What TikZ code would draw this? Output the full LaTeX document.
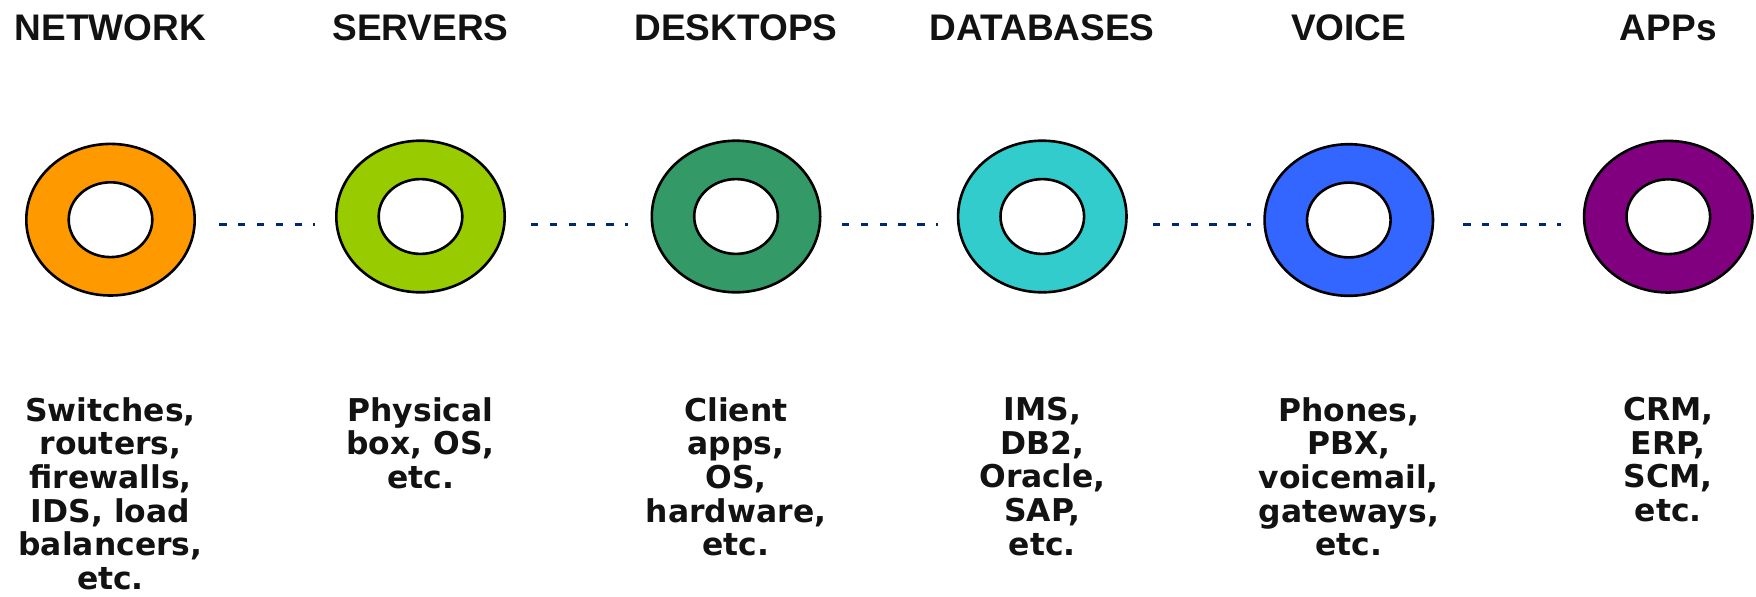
\documentclass[tikz,border=0pt]{standalone}
\usepackage{fontspec}
\usetikzlibrary{shapes.geometric}

\newfontfamily\headfont{Liberation Sans}
\newfontfamily\bodyfont{DejaVu Sans}

\definecolor{netorange}{RGB}{255,153,0}
\definecolor{srvgreen}{RGB}{153,204,0}
\definecolor{dskgreen}{RGB}{51,153,102}
\definecolor{dbcyan}{RGB}{51,204,204}
\definecolor{voiceblue}{RGB}{51,102,255}
\definecolor{appspurple}{RGB}{128,0,128}
\definecolor{linkblue}{RGB}{0,40,110}

\begin{document}
\begin{tikzpicture}[x=0.5pt,y=-0.5pt,
                ring/.style={ellipse,draw,line width=1.3pt,inner sep=0pt,
                  minimum width=84.2pt,minimum height=75.8pt},
                hole/.style={ellipse,draw,fill=white,line width=1.3pt,inner sep=0pt,
                  minimum width=41.8pt,minimum height=37.4pt},
                title/.style={anchor=base,inner sep=0pt,text=black!93,
                  font=\headfont\bfseries\fontsize{18.5pt}{20pt}\selectfont},
                items/.style={anchor=north,inner sep=0pt,align=center,text=black!93,
                  font=\bodyfont\bfseries\fontsize{15.7pt}{16.8pt}\selectfont},
                link/.style={draw=linkblue,line width=1.4pt,
                  dash pattern=on 3.65pt off 5.75pt}]

  \useasboundingbox (0,0) rectangle (1756,596);

  % rings
  \node[ring,fill=netorange] (net) at (110.5,219.7) {};
  \node[ring,fill=srvgreen] (srv) at (420.5,216.5) {};
  \node[ring,fill=dskgreen] (dsk) at (736,216.5) {};
  \node[ring,fill=dbcyan] (db) at (1042.3,216.5) {};
  \node[ring,fill=voiceblue] (voice) at (1348.8,220) {};
  \node[ring,fill=appspurple] (apps) at (1668.3,216.7) {};

  \node[hole] (net-h) at (net) {};
  \node[hole] (srv-h) at (srv) {};
  \node[hole] (dsk-h) at (dsk) {};
  \node[hole] (db-h) at (db) {};
  \node[hole] (voice-h) at (voice) {};
  \node[hole] (apps-h) at (apps) {};

  % headings
  \node[title] (net-t) at (net |- 0,40) {NETWORK};
  \node[title] (srv-t) at (srv |- 0,40) {SERVERS};
  \node[title] (dsk-t) at (dsk |- 0,40) {DESKTOPS};
  \node[title] (db-t) at (db |- 0,40) {DATABASES};
  \node[title] (voice-t) at (voice |- 0,40) {VOICE};
  \node[title] (apps-t) at (apps |- 0,40) {APPs};

  % what each one covers
  \node[items] (net-b) at (net |- 0,397) {Switches,\\routers,\\firewalls,\\IDS, load\\balancers,\\etc.};
  \node[items] (srv-b) at (srv |- 0,397) {Physical\\box, OS,\\etc.};
  \node[items] (dsk-b) at (dsk |- 0,397) {Client\\apps,\\OS,\\hardware,\\etc.};
  \node[items] (db-b) at (db |- 0,397) {IMS,\\DB2,\\Oracle,\\SAP,\\etc.};
  \node[items] (voice-b) at (voice |- 0,397) {Phones,\\PBX,\\voicemail,\\gateways,\\etc.};
  \node[items] (apps-b) at (apps |- 0,397) {CRM,\\ERP,\\SCM,\\etc.};

  % dashed links
  \coordinate (l1a) at (219.3,224.7);  \coordinate (l1b) at (315,224.7);
  \coordinate (l2a) at (531,224.7);    \coordinate (l2b) at (627.5,224.7);
  \coordinate (l3a) at (842,224.7);    \coordinate (l3b) at (938,224.7);
  \coordinate (l4a) at (1153,224.7);   \coordinate (l4b) at (1250.5,224.7);
  \coordinate (l5a) at (1463.3,224.7); \coordinate (l5b) at (1561,224.7);

  \draw[link] (l1a) -- (l1b);
  \draw[link] (l2a) -- (l2b);
  \draw[link] (l3a) -- (l3b);
  \draw[link] (l4a) -- (l4b);
  \draw[link] (l5a) -- (l5b);
\end{tikzpicture}
\end{document}
